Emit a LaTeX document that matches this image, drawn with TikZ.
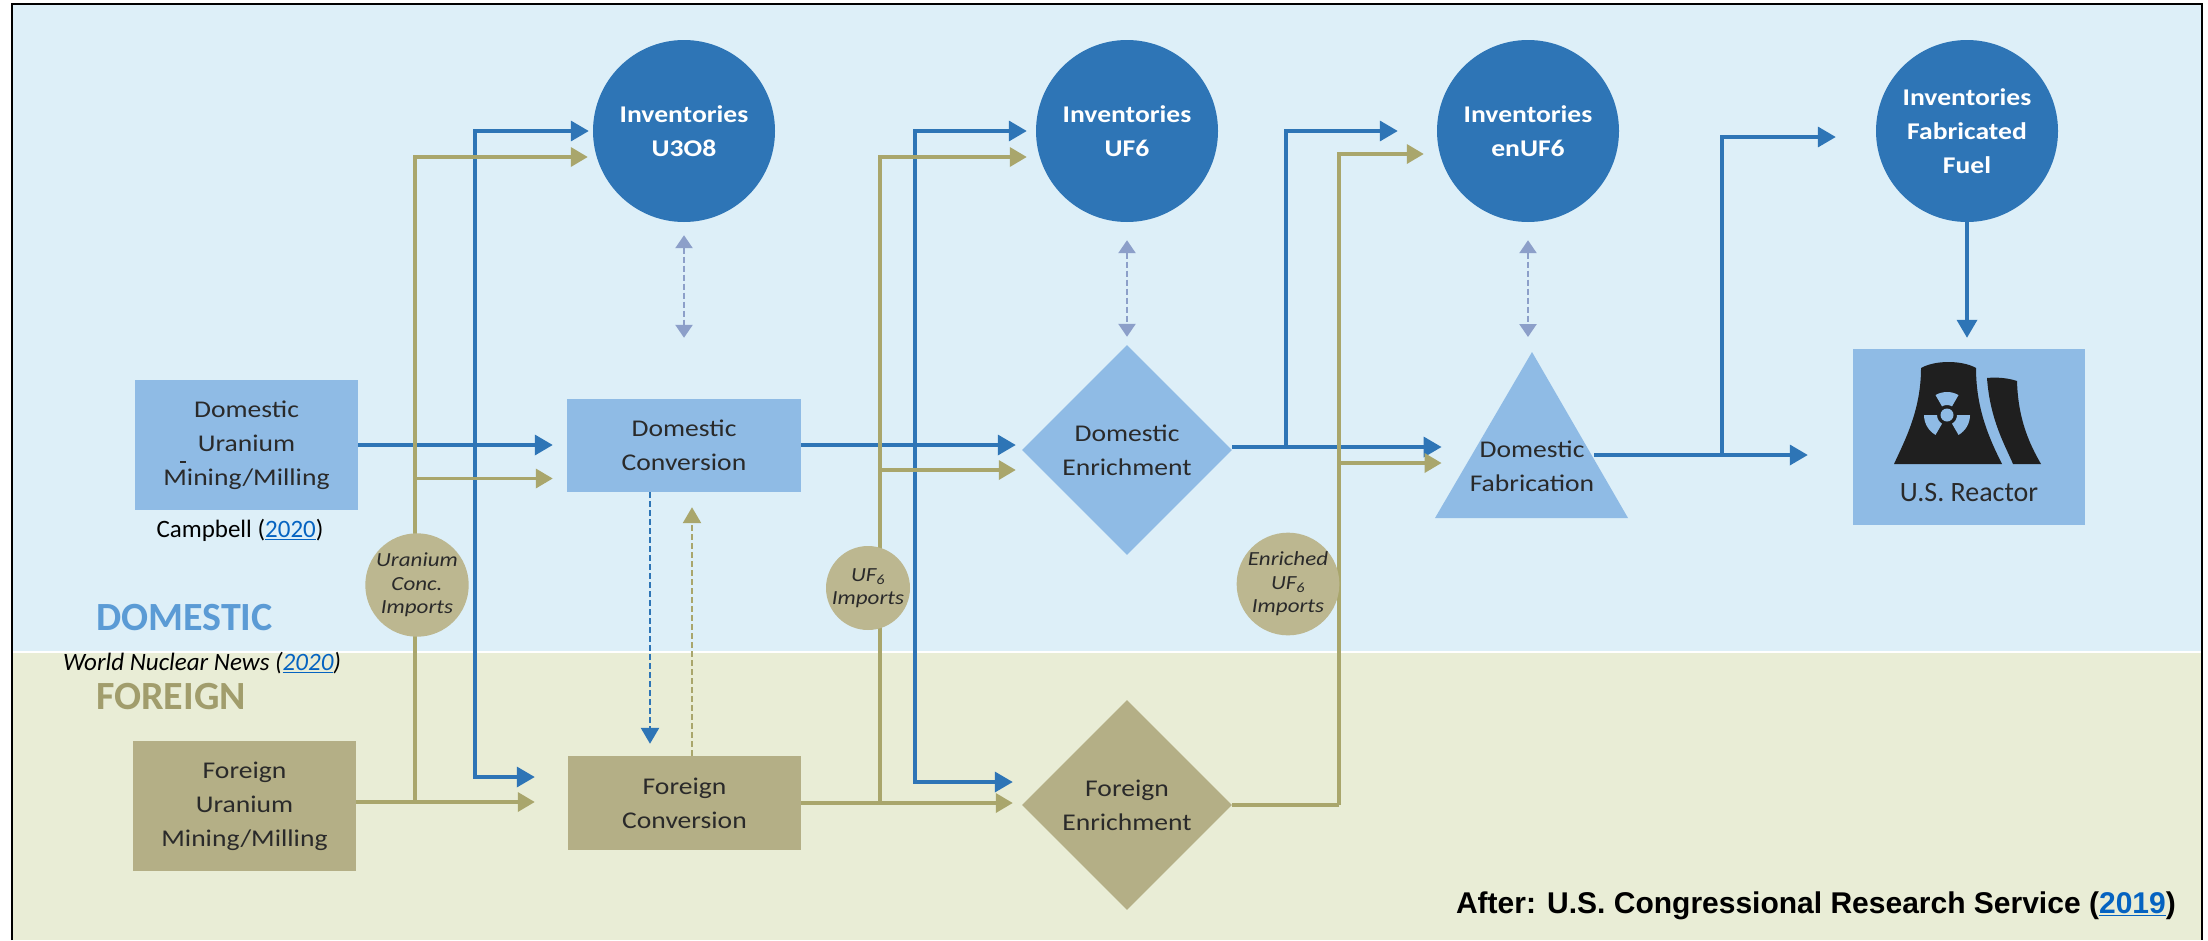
\documentclass[tikz,border=0pt]{standalone}
\usepackage{fontspec}
\setmainfont{Carlito}
\newfontfamily\fwide{Carlito}[FakeStretch=1.15]
\newfontfamily\fcal{Carlito}
\newfontfamily\farial{Liberation Sans}
\usetikzlibrary{shapes.geometric,arrows.meta,calc}
\definecolor{bgdom}{HTML}{DDEFF8}
\definecolor{bgfor}{HTML}{E9EDD6}
\definecolor{circblue}{HTML}{2E75B6}
\definecolor{boxblue}{HTML}{8FBBE5}
\definecolor{boxkhaki}{HTML}{B4AF86}
\definecolor{impkhaki}{HTML}{BCB790}
\definecolor{arrblue}{HTML}{2E75B6}
\definecolor{arrkhaki}{HTML}{A9A66C}
\definecolor{gdash}{HTML}{8C9FC9}
\definecolor{txt}{HTML}{2A2A2A}
\definecolor{domlbl}{HTML}{5B9BD5}
\definecolor{forlbl}{HTML}{A19D6C}
\definecolor{linkblue}{HTML}{0563C1}
\newcommand\lnk[1]{\textcolor{linkblue}{\underline{#1}}}
\newcommand\boxfont{\fwide\fontsize{24}{34}\selectfont}
\newcommand\invfont{\fwide\bfseries\fontsize{24}{34}\selectfont}
\newcommand\impfont{\fwide\itshape\fontsize{20}{23.5}\selectfont}
\tikzset{
 dbox/.style={rectangle, fill=boxblue, text=txt, font=\boxfont, align=center, inner sep=0pt},
 fbox/.style={dbox, fill=boxkhaki},
 ddia/.style={diamond, fill=boxblue, text=txt, font=\boxfont, align=center, inner sep=0pt, minimum width=210pt, minimum height=210pt},
 fdia/.style={ddia, fill=boxkhaki},
 inv/.style={circle, fill=circblue, text=white, font=\invfont, align=center, inner sep=0pt, minimum size=182pt},
 imp/.style={circle, fill=impkhaki, text=txt, font=\impfont, align=center, inner sep=0pt, minimum size=84pt},
 bflow/.style={draw=arrblue, line width=3.5pt, -{Triangle[length=18pt,width=20pt]}},
 kflow/.style={draw=arrkhaki, line width=3.5pt, -{Triangle[length=17pt,width=19pt]}},
 kline/.style={draw=arrkhaki, line width=3.5pt},
 bdash/.style={draw=arrblue, line width=2.5pt, dash pattern=on 6pt off 3pt, -{Triangle[length=16pt,width=18pt]}},
 kdash/.style={draw=arrkhaki, line width=2.5pt, dash pattern=on 6pt off 3pt, -{Triangle[length=16pt,width=18pt]}},
 gdbl/.style={draw=gdash, line width=2.5pt, dash pattern=on 6pt off 3pt, {Triangle[length=13pt,width=17pt]}-{Triangle[length=13pt,width=17pt]}},
}
\begin{document}
\begin{tikzpicture}[x=1pt,y=-1pt]
\useasboundingbox (0,0) rectangle (2208,940);
\fill[white] (0,0) rectangle (2208,940);
\fill[bgdom] (12,4) rectangle (2202,652);
\fill[bgfor] (12,652) rectangle (2202,940);
\draw[white, line width=2pt] (12,652) -- (2202,652);
\draw[black, line width=1.5pt] (12,940) -- (12,4) -- (2202,4) -- (2202,940);

% inventories
\node[inv] (u3o8) at (684,131) {Inventories\\U3O8};
\node[inv] (uf6) at (1127,131) {Inventories\\UF6};
\node[inv] (enuf6) at (1528,131) {Inventories\\enUF6};
\node[inv] (fabfuel) at (1967,131) {Inventories\\Fabricated\\Fuel};

% process nodes
\node[dbox, minimum width=223pt, minimum height=130pt] (dmin) at (246.5,445) {Domestic\\Uranium\\Mining/Milling};
\draw[txt, line width=1.2pt] (180,462) -- (186,462);
\node[dbox, minimum width=234pt, minimum height=93pt] (dconv) at (684,445.5) {Domestic\\Conversion};
\node[fbox, minimum width=223pt, minimum height=130pt] (fmin) at (244.5,806) {Foreign\\Uranium\\Mining/Milling};
\node[fbox, minimum width=233pt, minimum height=94pt] (fconv) at (684.5,803) {Foreign\\Conversion};
\node[ddia] (denr) at (1127,450) {Domestic\\Enrichment};
\node[fdia] (fenr) at (1127,805) {Foreign\\Enrichment};
\fill[boxblue] (1532,352) -- (1628,518) -- (1435,518) -- cycle;
\coordinate (fabapex) at (1532,352);
\node[font=\boxfont, text=txt, align=center, inner sep=0pt] (dfab) at (1532,466) {Domestic\\Fabrication};
\node[dbox, minimum width=232pt, minimum height=176pt] (reactor) at (1969,437) {};
\node[font=\fcal\fontsize{28}{28}\selectfont, text=txt, inner sep=0pt] (reactortxt) at (1969,493) {U.S. Reactor};

% reactor icon
\fill[black!88] (1921,368) .. controls (1935,360) and (1962,360) .. (1976,368) .. controls (1976,410) and (1990,440) .. (2002,464) -- (1894,464) .. controls (1905,440) and (1921,410) .. cycle;
\fill[black!88] (1987,378) .. controls (1997,377) and (2008,378) .. (2017,381) .. controls (2018,420) and (2030,445) .. (2041,464) -- (2013,464) .. controls (2005,445) and (1990,420) .. cycle;
\begin{scope}[shift={(1947,415)}, x=1pt, y=1pt]
 \foreach \a in {90,210,330} {
  \fill[boxblue] (\a-30:10) -- (\a-30:23) arc[start angle=\a-30, end angle=\a+30, radius=23pt] -- (\a+30:10) arc[start angle=\a+30, end angle=\a-30, radius=10pt] -- cycle;
 }
 \fill[boxblue] (0,0) circle[radius=6.5pt];
\end{scope}

% junctions
\coordinate (jb1) at (475,445);
\coordinate (jb2) at (915,445);
\coordinate (jb3) at (1286,447);
\coordinate (jb4) at (1722,455);
\coordinate (jk1) at (415,802);
\coordinate (jk2) at (880,803);
\coordinate (jk3) at (1339,805);

% blue flows
\draw[bflow, shorten >=14pt] (dmin.east |- jb1) -- (dconv.west |- jb1);
\draw[bflow, shorten >=6pt] (dconv.east |- jb2) -- (denr.west |- jb2);
\draw[bflow, shorten >=28pt] (denr.east |- jb3) -- (dfab.west |- jb3);
\draw[bflow, shorten >=45pt] (dfab.east |- jb4) -- (reactor.west |- jb4);
\draw[bflow, shorten >=4pt] (jb1) |- (u3o8.west);
\draw[bflow, shorten >=33pt] (jb1) |- ($(fconv.west)+(0,-26)$);
\draw[bflow, shorten >=9pt] (jb2) |- (uf6.west);
\draw[bflow, shorten >=9pt] (jb2) |- ($(fenr.west)+(0,-23)$);
\draw[bflow, shorten >=39pt] (jb3) |- (enuf6.west);
\draw[bflow, shorten >=40pt] (jb4) |- ($(fabfuel.west)+(0,6)$);
\draw[bflow, shorten >=11pt] (fabfuel.south) -- (fabfuel.south |- reactor.north);

% khaki flows
\draw[kflow, shorten >=33pt] (fmin.east |- jk1) -- (fconv.west |- jk1);
\draw[kflow, shorten >=5pt] (jk1) |- ($(u3o8.west)+(0,26)$);
\draw[kflow, shorten >=14pt] (jk1) |- ($(dconv.west)+(0,33)$);
\draw[kflow, shorten >=9pt] (fconv.east |- jk2) -- (fenr.west |- jk2);
\draw[kflow, shorten >=9pt] (jk2) |- ($(uf6.west)+(0,26)$);
\draw[kflow, shorten >=6pt] (jk2) |- ($(denr.west)+(0,20)$);
\draw[kline] (fenr.east) -- (jk3);
\draw[kflow, shorten >=13pt] (jk3) |- ($(enuf6.west)+(0,23)$);
\draw[kflow, shorten >=28pt] (jk3) |- ($(dfab.west)+(0,-3)$);

% dashed
\draw[bdash, shorten >=12pt] ($(dconv.south)+(-34,0)$) -- ($(fconv.north)+(-34.5,0)$);
\draw[kdash, shorten >=15pt] ($(fconv.north)+(7.5,0)$) -- ($(dconv.south)+(8,0)$);
\draw[gdbl, shorten <=13pt, shorten >=61pt] (u3o8.south) -- (u3o8.south |- dconv.north);
\draw[gdbl, shorten <=18pt, shorten >=8pt] (uf6.south) -- (uf6.south |- denr.north);
\draw[gdbl, shorten <=18pt, shorten >=15pt] (enuf6.south) -- (enuf6.south |- fabapex);

% imports
\node[imp] (uimp) at (417,585) {Uranium\\Conc.\\Imports};
\node[imp] (ufimp) at (868,588) {UF\textsubscript{6}\\Imports};
\node[imp] (eimp) at (1288,584) {Enriched\\UF\textsubscript{6}\\Imports};

% labels
\node[anchor=west, inner sep=0pt, font=\fcal\bfseries\fontsize{40}{40}\selectfont, text=domlbl] (domlabel) at (96,618) {DOMESTIC};
\node[anchor=west, inner sep=0pt, font=\fcal\bfseries\fontsize{40}{40}\selectfont, text=forlbl] (forlabel) at (96,697) {FOREIGN};
\node[inner sep=0pt, font=\fcal\fontsize{25}{25}\selectfont, text=black] (camp) at (240,530) {Campbell (\lnk{2020})};
\node[inner sep=0pt, font=\fcal\itshape\fontsize{25}{25}\selectfont, text=black] (wnn) at (202,663) {World Nuclear News (\lnk{2020})};
\node[anchor=base east, inner sep=0pt, font=\farial\bfseries\fontsize{30}{30}\selectfont, text=black] (crs) at (2176,913) {After: U.S. Congressional Research Service (\lnk{2019})};
\end{tikzpicture}
\end{document}
